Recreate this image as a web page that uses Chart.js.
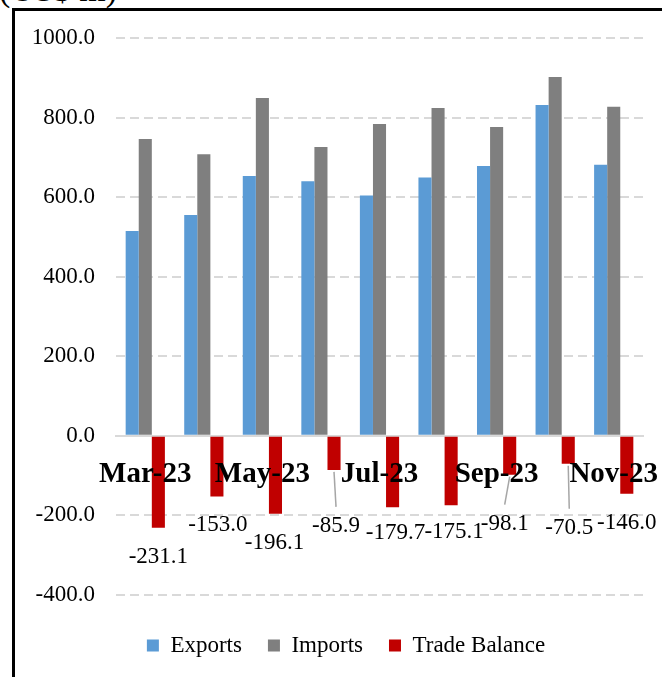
<!DOCTYPE html>
<html>
<head>
<meta charset="utf-8">
<script src="https://cdn.jsdelivr.net/npm/chart.js@4"></script>
<style>
html, body { margin: 0; padding: 0; background: #fff; overflow: hidden; }
#unit { position: absolute; left: -1px; top: -27px; font: 34px 'Liberation Serif', 'Times New Roman', serif; line-height: 34px; white-space: nowrap; }
#frame { position: absolute; left: 12px; top: 8px; width: 700px; height: 700px; border-left: 3px solid #000; border-top: 3px solid #000; }
#wrap { position: absolute; left: 0; top: 0; width: 662px; height: 677px; }
</style>
</head>
<body>
<div id="unit">(US$ m)</div>
<div id="frame"></div>
<div id="wrap"><canvas id="myChart"></canvas></div>
<script>
let months = ['Mar-23', 'Apr-23', 'May-23', 'Jun-23', 'Jul-23', 'Aug-23', 'Sep-23', 'Oct-23', 'Nov-23'];
let exportsM = [515.0, 555.0, 653.0, 640.1, 604.0, 649.0, 678.0, 831.5, 681.0];
let importsM = [746.1, 708.0, 849.1, 726.0, 783.7, 824.1, 776.1, 902.0, 827.0];
let balance = [-231.1, -153.0, -196.1, -85.9, -179.7, -175.1, -98.1, -70.5, -146.0];

// where each balance label sits, relative to the end of its bar (px)
let labelDx = [0, 1, -1, 2, 3, 3, -5, 1, 0];
let labelDy = [29, 28, 29, 56, 26, 27, 49, 64, 29];

const serif = 'Liberation Serif';

const balanceLabels = {
  id: 'balanceLabels',
  afterDatasetsDraw(chart) {
    const c = chart.ctx;
    const meta = chart.getDatasetMeta(2);
    c.save();
    c.font = '23px "' + serif + '"';
    c.textAlign = 'center';
    c.textBaseline = 'middle';
    meta.data.forEach((bar, i) => {
      const lx = bar.x + labelDx[i];
      const ly = bar.y + labelDy[i];
      if (labelDy[i] > 40) {
        // leader line for labels pulled away from the bar
        c.strokeStyle = '#a6a6a6';
        c.lineWidth = 1.5;
        c.beginPath();
        c.moveTo(bar.x, bar.y + 2);
        c.lineTo(lx, ly - 19);
        c.stroke();
      }
      c.fillStyle = '#000';
      c.fillText(balance[i].toFixed(1), lx, ly);
    });
    c.restore();
  }
};

let ctx = document.getElementById('myChart').getContext('2d');
let myChart = new Chart(ctx, {
  type: 'bar',
  data: {
    labels: months,
    datasets: [
      { label: 'Exports', data: exportsM, backgroundColor: '#5b9bd5' },
      { label: 'Imports', data: importsM, backgroundColor: '#7f7f7f' },
      { label: 'Trade Balance', data: balance, backgroundColor: '#c00000' }
    ]
  },
  options: {
    responsive: true,
    maintainAspectRatio: false,
    animation: false,
    datasets: {
      bar: { categoryPercentage: 0.67, barPercentage: 1.0, borderWidth: 0 }
    },
    layout: {
      padding: { left: 30, right: 0, top: 38, bottom: 10 }
    },
    scales: {
      x: {
        position: { y: 0 },
        // let the last month label run past the plot edge
        afterFit: (s) => { s.paddingLeft = 0; s.paddingRight = 0; },
        grid: { display: false, drawTicks: false },
        border: { display: true, color: '#d9d9d9', width: 2 },
        ticks: {
          z: 1,
          autoSkip: false,
          maxRotation: 0,
          padding: 21,
          color: '#000',
          font: { family: serif, size: 29, weight: 'bold' },
          callback: (v, i) => i % 2 === 0 ? months[i] : ''
        }
      },
      y: {
        min: -400,
        max: 1000,
        afterFit: (s) => { s.width = 86; },
        grid: { color: '#d9d9d9', lineWidth: 2, drawTicks: false },
        border: { display: false, dash: [9, 5] },
        ticks: {
          stepSize: 200,
          padding: 21,
          color: '#000',
          font: { family: serif, size: 23 },
          callback: (v) => v.toFixed(1)
        }
      },
      // empty strip on the right so the legend centres like the original
      yRight: {
        type: 'linear',
        position: 'right',
        afterFit: (s) => { s.width = 19; },
        grid: { display: false, drawTicks: false },
        border: { display: false },
        ticks: { display: false }
      }
    },
    plugins: {
      tooltip: { enabled: false },
      legend: {
        position: 'bottom',
        title: { display: true, text: ' ', padding: { top: 0, bottom: 12 }, font: { size: 1 } },
        labels: {
          boxWidth: 12,
          boxHeight: 12,
          padding: 26,
          color: '#000',
          font: { family: serif, size: 23 }
        }
      }
    }
  },
  plugins: [balanceLabels]
});
</script>
</body>
</html>
